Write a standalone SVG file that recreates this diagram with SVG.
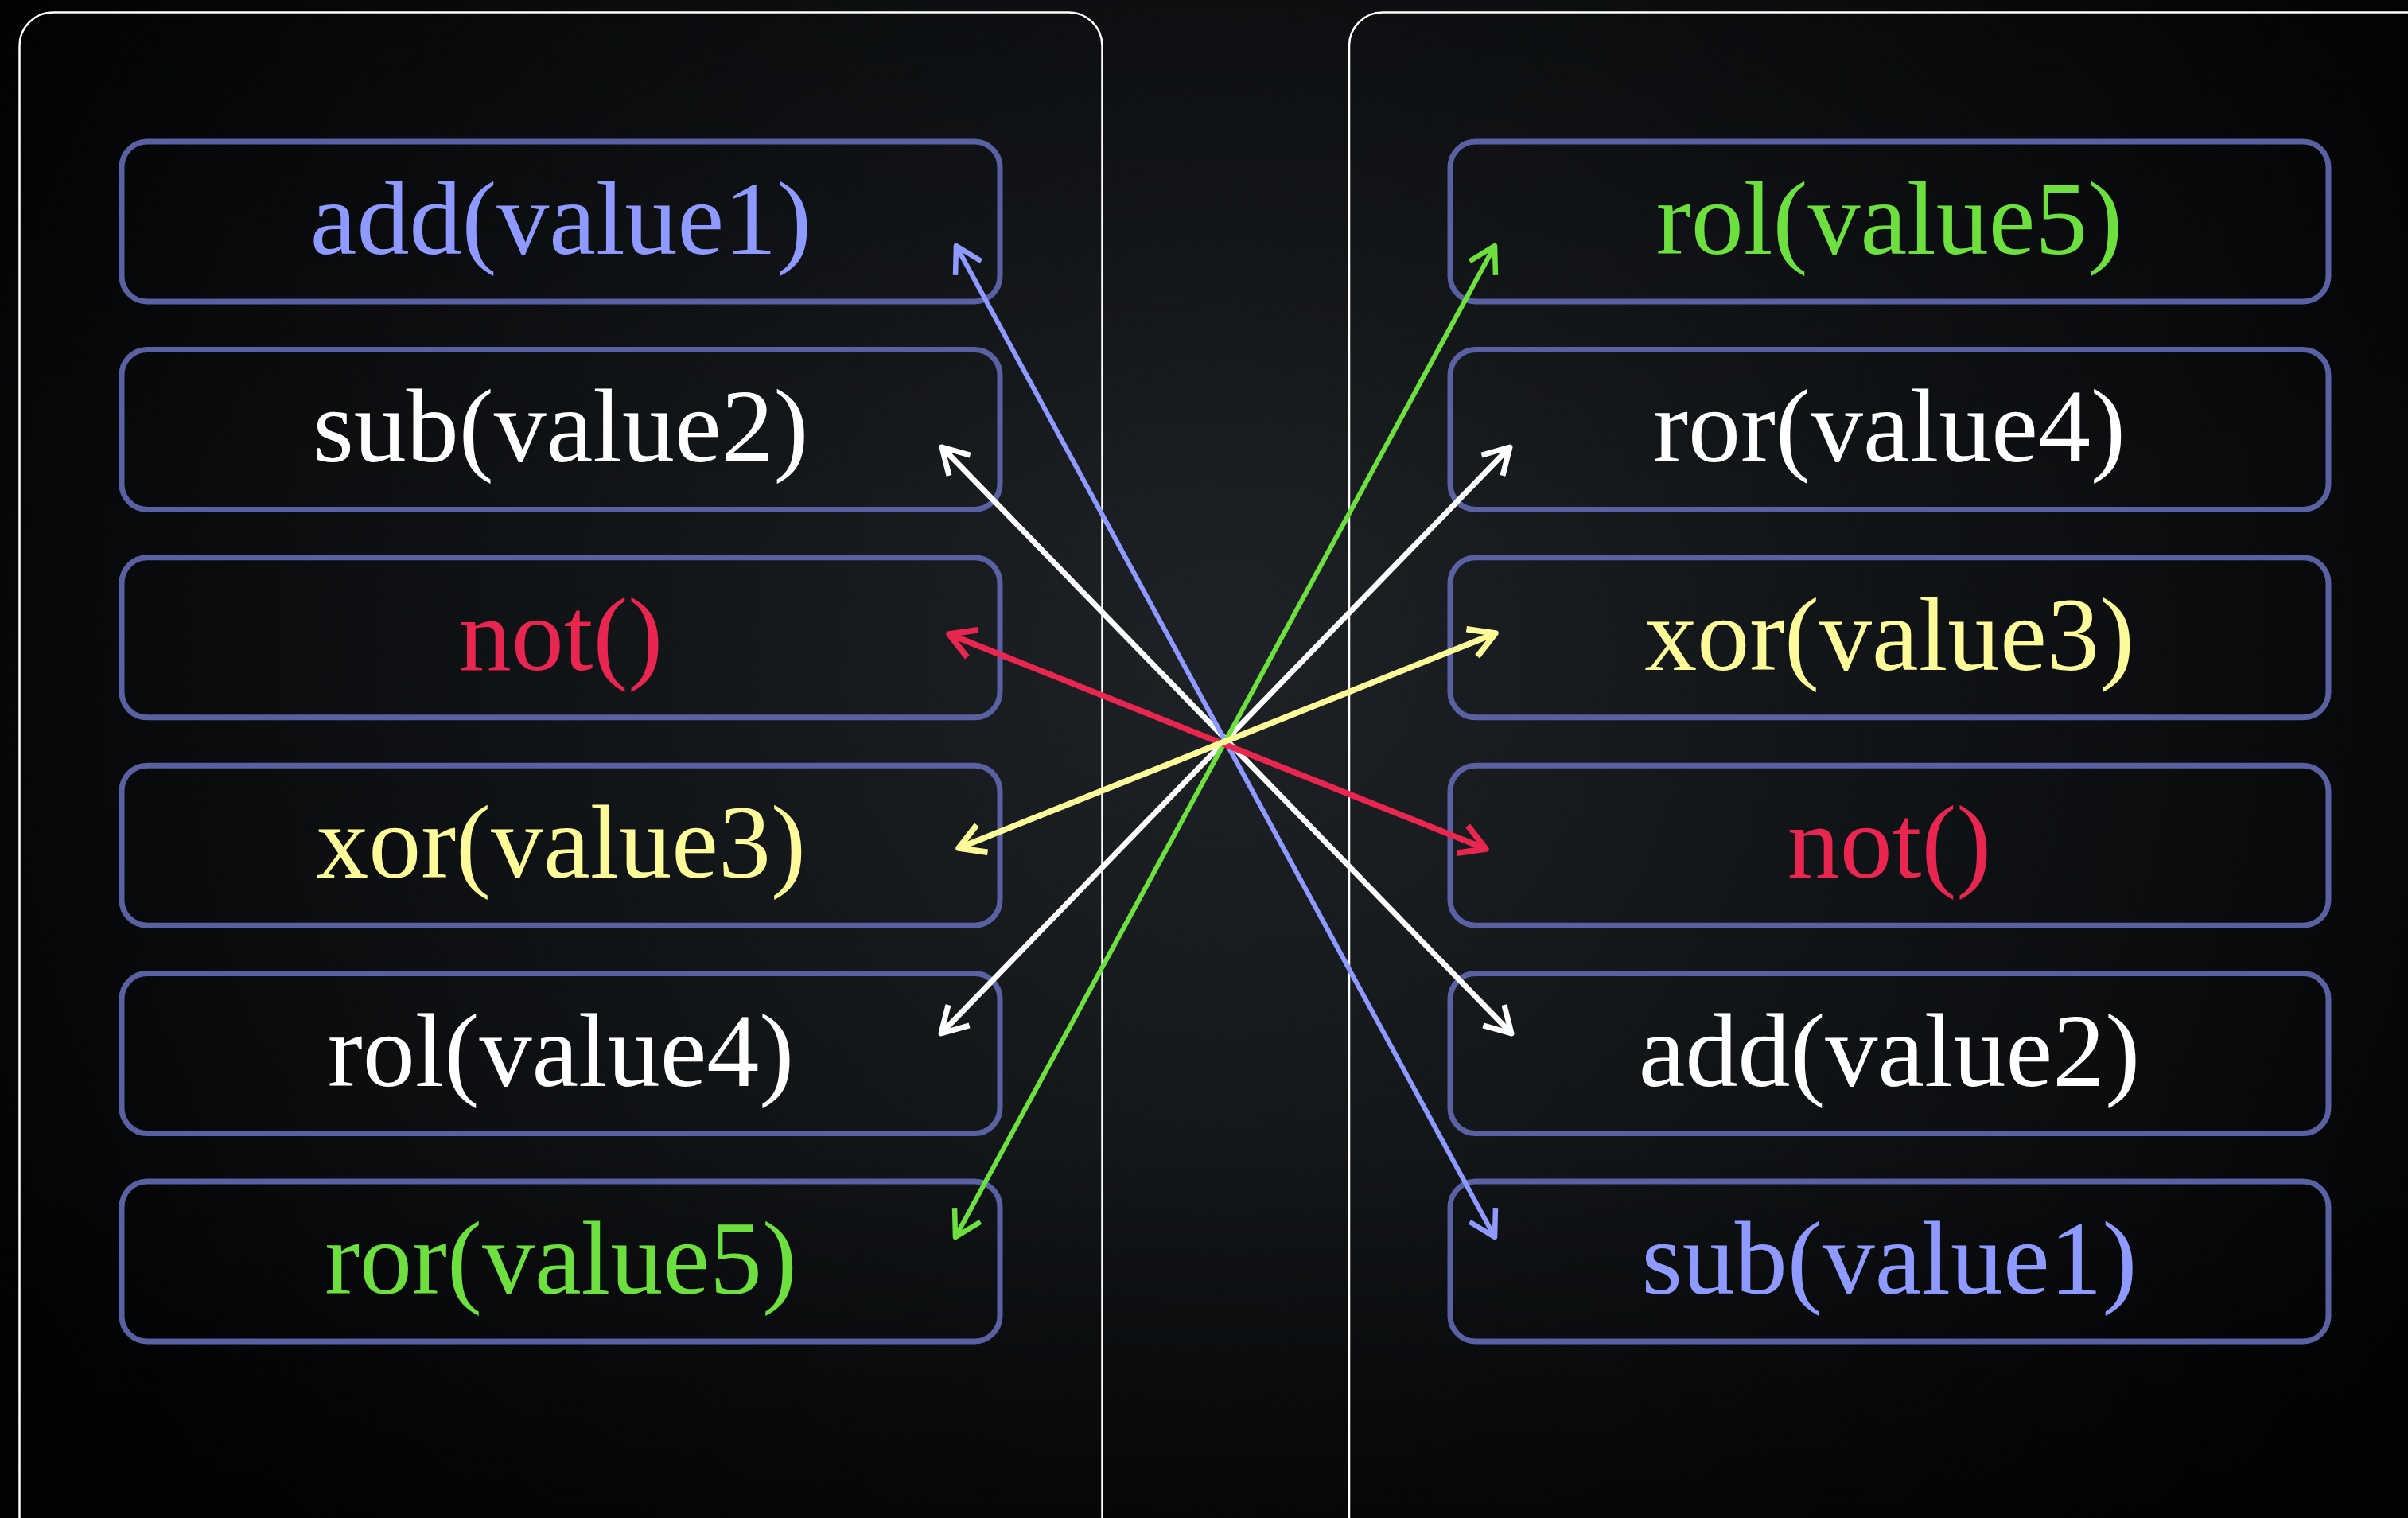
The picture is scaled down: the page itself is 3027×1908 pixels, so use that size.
<svg xmlns="http://www.w3.org/2000/svg" width="3027" height="1908" viewBox="0 0 3027 1908">
  <defs>
    <radialGradient id="bg" cx="1540" cy="820" r="1700" gradientUnits="userSpaceOnUse">
      <stop offset="0" stop-color="#1e2226"/>
      <stop offset="0.45" stop-color="#121518"/>
      <stop offset="1" stop-color="#030405"/>
    </radialGradient>
    <linearGradient id="fade" x1="0" y1="0" x2="0" y2="1">
      <stop offset="0" stop-color="#000" stop-opacity="0.25"/>
      <stop offset="0.35" stop-color="#000" stop-opacity="0"/>
      <stop offset="0.75" stop-color="#000" stop-opacity="0"/>
      <stop offset="1" stop-color="#000" stop-opacity="0.55"/>
    </linearGradient>
    <marker id="mBlue" markerUnits="userSpaceOnUse" orient="auto-start-reverse" markerWidth="80" markerHeight="80" refX="0" refY="0" viewBox="-40 -40 80 80" overflow="visible">
      <path d="M-32,-18.5 L0,0 L-32,18.5" fill="none" stroke="#8e9aff" stroke-width="6.5" stroke-linejoin="round"/>
    </marker>
    <marker id="mGreen" markerUnits="userSpaceOnUse" orient="auto-start-reverse" markerWidth="80" markerHeight="80" refX="0" refY="0" viewBox="-40 -40 80 80" overflow="visible">
      <path d="M-32,-18.5 L0,0 L-32,18.5" fill="none" stroke="#6de040" stroke-width="6.5" stroke-linejoin="round"/>
    </marker>
    <marker id="mWhite" markerUnits="userSpaceOnUse" orient="auto-start-reverse" markerWidth="80" markerHeight="80" refX="0" refY="0" viewBox="-40 -40 80 80" overflow="visible">
      <path d="M-32,-18.5 L0,0 L-32,18.5" fill="none" stroke="#ffffff" stroke-width="7" stroke-linejoin="round"/>
    </marker>
    <marker id="mRed" markerUnits="userSpaceOnUse" orient="auto-start-reverse" markerWidth="80" markerHeight="80" refX="0" refY="0" viewBox="-40 -40 80 80" overflow="visible">
      <path d="M-32,-18.5 L0,0 L-32,18.5" fill="none" stroke="#e8264f" stroke-width="7.5" stroke-linejoin="round"/>
    </marker>
    <marker id="mYellow" markerUnits="userSpaceOnUse" orient="auto-start-reverse" markerWidth="80" markerHeight="80" refX="0" refY="0" viewBox="-40 -40 80 80" overflow="visible">
      <path d="M-32,-18.5 L0,0 L-32,18.5" fill="none" stroke="#fdfa9a" stroke-width="7.5" stroke-linejoin="round"/>
    </marker>
  </defs>
  <style>
    .panel { fill: none; stroke: #ffffff; stroke-width: 2.5; }
    .box { fill: none; stroke: #5a61a2; stroke-width: 7; }
    .lbl { font-family: "Liberation Serif", "Times New Roman", serif; font-size: 132px; text-anchor: middle; }
    .blue { fill: #8e9aff; }
    .white { fill: #ffffff; }
    .red { fill: #e8264f; }
    .yellow { fill: #fdfa9a; }
    .green { fill: #6de040; }
    .con { fill: none; stroke-linecap: butt; }
  </style>

  <rect x="0" y="0" width="3027" height="1908" fill="url(#bg)"/>
  <rect x="0" y="0" width="3027" height="1908" fill="url(#fade)"/>

  <g id="panels">
    <rect id="panel-left" class="panel" x="24.5" y="15.5" width="1361" height="1940" rx="42" ry="42"/>
    <rect id="panel-right" class="panel" x="1696" y="15.5" width="1400" height="1940" rx="42" ry="42"/>
  </g>

  <g id="left-nodes">
    <g id="L1"><rect class="box" x="153" y="178" width="1104" height="201" rx="32"/><text class="lbl blue" x="705" y="319">add(value1)</text></g>
    <g id="L2"><rect class="box" x="153" y="439.4" width="1104" height="201" rx="32"/><text class="lbl white" x="705" y="580.4">sub(value2)</text></g>
    <g id="L3"><rect class="box" x="153" y="700.8" width="1104" height="201" rx="32"/><text class="lbl red" x="705" y="841.8">not()</text></g>
    <g id="L4"><rect class="box" x="153" y="962.2" width="1104" height="201" rx="32"/><text class="lbl yellow" x="705" y="1103.2">xor(value3)</text></g>
    <g id="L5"><rect class="box" x="153" y="1223.6" width="1104" height="201" rx="32"/><text class="lbl white" x="705" y="1364.6">rol(value4)</text></g>
    <g id="L6"><rect class="box" x="153" y="1485" width="1104" height="201" rx="32"/><text class="lbl green" x="705" y="1626">ror(value5)</text></g>
  </g>

  <g id="right-nodes">
    <g id="R1"><rect class="box" x="1823" y="178" width="1104" height="201" rx="32"/><text class="lbl green" x="2375" y="319">rol(value5)</text></g>
    <g id="R2"><rect class="box" x="1823" y="439.4" width="1104" height="201" rx="32"/><text class="lbl white" x="2375" y="580.4">ror(value4)</text></g>
    <g id="R3"><rect class="box" x="1823" y="700.8" width="1104" height="201" rx="32"/><text class="lbl yellow" x="2375" y="841.8">xor(value3)</text></g>
    <g id="R4"><rect class="box" x="1823" y="962.2" width="1104" height="201" rx="32"/><text class="lbl red" x="2375" y="1103.2">not()</text></g>
    <g id="R5"><rect class="box" x="1823" y="1223.6" width="1104" height="201" rx="32"/><text class="lbl white" x="2375" y="1364.6">add(value2)</text></g>
    <g id="R6"><rect class="box" x="1823" y="1485" width="1104" height="201" rx="32"/><text class="lbl blue" x="2375" y="1626">sub(value1)</text></g>
  </g>

  <g id="connectors">
    <line class="con" x1="1184" y1="562" x2="1900" y2="1299" stroke="#ffffff" stroke-width="7" marker-start="url(#mWhite)" marker-end="url(#mWhite)"/>
    <line class="con" x1="1898" y1="562" x2="1183" y2="1299" stroke="#ffffff" stroke-width="7" marker-start="url(#mWhite)" marker-end="url(#mWhite)"/>
    <line class="con" x1="1202" y1="309" x2="1879" y2="1555" stroke="#8e9aff" stroke-width="6" marker-start="url(#mBlue)" marker-end="url(#mBlue)"/>
    <line class="con" x1="1879" y1="309" x2="1201" y2="1555" stroke="#6de040" stroke-width="6" marker-start="url(#mGreen)" marker-end="url(#mGreen)"/>
    <line class="con" x1="1193" y1="797" x2="1868" y2="1067" stroke="#e8264f" stroke-width="7.5" marker-start="url(#mRed)" marker-end="url(#mRed)"/>
    <line class="con" x1="1880" y1="796" x2="1205" y2="1066" stroke="#fdfa9a" stroke-width="7.5" marker-start="url(#mYellow)" marker-end="url(#mYellow)"/>
  </g>
</svg>
